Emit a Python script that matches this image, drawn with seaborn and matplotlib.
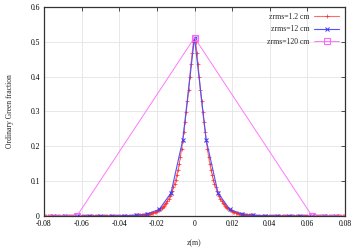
import numpy as np
import pandas as pd
import matplotlib
matplotlib.use("Agg")
import matplotlib.pyplot as plt
import seaborn as sns

# half profiles (z >= 0); curves are symmetric in z
red_step = 0.000625
red_half = [0.512, 0.499, 0.469, 0.436, 0.400, 0.363, 0.330, 0.299, 0.270, 0.242,
            0.215, 0.192, 0.170, 0.150, 0.133, 0.118, 0.104, 0.093, 0.082, 0.072,
            0.064, 0.0564, 0.0497, 0.0438, 0.0386, 0.0340, 0.0299, 0.0264, 0.0232, 0.0205,
            0.0180, 0.0160, 0.0142, 0.0126, 0.0112, 0.0099, 0.0088, 0.0078, 0.0070, 0.0062,
            0.0055, 0.0049, 0.0043, 0.0038, 0.0034, 0.0030, 0.0027, 0.0024, 0.0021, 0.0019,
            0.0017, 0.0015, 0.0013, 0.0012, 0.0010, 0.0009, 0.0008, 0.0007, 0.0006, 0.0005,
            0.0005, 0.0004, 0.0004, 0.0003, 0.0003,
            0.0, 0.0, 0.0, 0.0, 0.0, 0.0, 0.0, 0.0, 0.0, 0.0, 0.0, 0.0, 0.0, 0.0, 0.0, 0.0,
            0.0, 0.0, 0.0, 0.0, 0.0, 0.0, 0.0, 0.0, 0.0, 0.0, 0.0, 0.0, 0.0, 0.0, 0.0, 0.0,
            0.0, 0.0, 0.0, 0.0, 0.0, 0.0, 0.0, 0.0, 0.0, 0.0, 0.0, 0.0, 0.0, 0.0, 0.0, 0.0,
            0.0, 0.0, 0.0, 0.0, 0.0, 0.0, 0.0, 0.0, 0.0, 0.0, 0.0, 0.0, 0.0, 0.0, 0.0, 0.0]

blue_step = 0.00625
blue_half = [0.512, 0.218, 0.066, 0.019, 0.006, 0.002, 0.0007, 0.0003, 0.0001,
             0.0, 0.0, 0.0, 0.0]

pink_step = 0.0625
pink_half = [0.512, 0.0, 0.0]

labels = ["zrms=1.2 cm", "zrms=12 cm", "zrms=120 cm"]
xticks = [-0.08, -0.06, -0.04, -0.02, 0, 0.02, 0.04, 0.06, 0.08]
xticklabels = ["-0.08", "-0.06", "-0.04", "-0.02", "0", "0.02", "0.04", "0.06", "0.08"]
yticks = [0, 0.1, 0.2, 0.3, 0.4, 0.5, 0.6]
yticklabels = ["0", "0.1", "0.2", "0.3", "0.4", "0.5", "0.6"]


def full_profile(half, step):
    vals = np.array(half)
    z = np.arange(len(vals)) * step
    return np.concatenate([-z[:0:-1], z]), np.concatenate([vals[:0:-1], vals])


sns.set_theme(style="white")
plt.rcParams["font.family"] = ["Liberation Serif", "DejaVu Serif"]

fig = plt.figure(figsize=(3.55, 2.49), dpi=100)
ax = fig.add_axes([44 / 355, 33 / 249, 301 / 355, 209 / 249])

zr, vr = full_profile(red_half, red_step)
zb, vb = full_profile(blue_half, blue_step)
zp, vp = full_profile(pink_half, pink_step)

sns.lineplot(x=zr, y=vr, ax=ax, color="#ff6a6a", lw=0.8, marker="+", markersize=3.5,
             markeredgecolor="#ff2a2a", markeredgewidth=0.5, label=labels[0], sort=False)
sns.lineplot(x=zb, y=vb, ax=ax, color="#5050ff", lw=0.8, marker="x", markersize=3.2,
             markeredgecolor="#3a3aff", markeredgewidth=0.7, label=labels[1], sort=False)
sns.lineplot(x=zp, y=vp, ax=ax, color="#ff77ff", lw=0.7, marker="s", markersize=3.8,
             markerfacecolor="none", markeredgecolor="#ff66ff", markeredgewidth=0.8,
             label=labels[2], sort=False)

ax.set_xlim(-0.08, 0.08)
ax.set_ylim(0, 0.6)
ax.set_xticks(xticks)
ax.set_xticklabels(xticklabels)
ax.set_yticks(yticks)
ax.set_yticklabels(yticklabels)
ax.grid(True, color="#e4e4e4", lw=0.6)
ax.set_axisbelow(True)
ax.tick_params(direction="in", length=3, width=0.6, colors="#333333", labelsize=5.5,
               labelcolor="black", top=True, right=True, pad=3)
for s in ax.spines.values():
    s.set_color("#333333")
    s.set_linewidth(0.9)
ax.set_xlabel("z(m)", fontsize=5.5, labelpad=8)
ax.set_ylabel("Ordinary Green fraction", fontsize=5.5, labelpad=12)

ax.legend(loc="upper right", frameon=False, markerfirst=False, fontsize=5.5,
          handlelength=3.2, handletextpad=0.6, labelspacing=0.55,
          borderaxespad=0.4)

fig.savefig("out.png", dpi=100)
